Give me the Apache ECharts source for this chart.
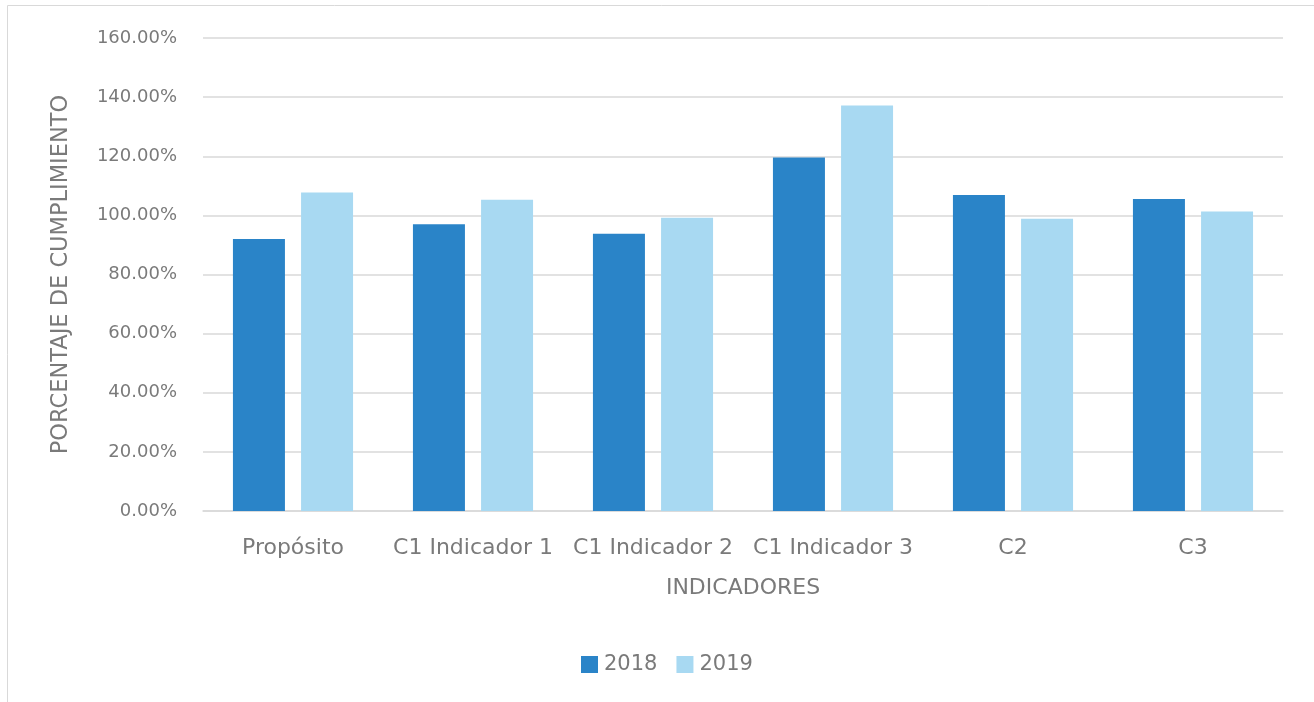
<!DOCTYPE html>
<html><head><meta charset="utf-8">
<script src="https://cdn.jsdelivr.net/npm/echarts@6/dist/echarts.min.js"></script>
<style>html,body{margin:0;padding:0;background:#fff;}#c{width:1314px;height:702px;}</style>
</head><body><div id="c"></div>
<script>
const categories = ['Propósito', 'C1 Indicador 1', 'C1 Indicador 2', 'C1 Indicador 3', 'C2', 'C3'];
const series2018 = [92.0, 97.0, 93.8, 119.6, 106.9, 105.5];
const series2019 = [107.7, 105.3, 99.2, 137.2, 98.9, 101.3];
const seriesNames = ['2018', '2019'];
const yAxisName = 'PORCENTAJE DE CUMPLIMIENTO';
const xAxisName = 'INDICADORES';

const FONT = '"DejaVu Sans", "Open Sans", sans-serif';
const TXT = '#7a7a7a';
const chart = echarts.init(document.getElementById('c'));
chart.setOption({
  animation: false,
  textStyle: { fontFamily: FONT },
  graphic: [{ type: 'rect', shape: { x: 7.5, y: 5.5, width: 1400, height: 800 }, style: { fill: 'none', stroke: '#d9d9d9', lineWidth: 1 } }],
  grid: { left: 203, right: 31, top: 38, bottom: 191, containLabel: false },
  legend: {
    data: seriesNames, top: 649, left: 576, itemWidth: 17, itemHeight: 17, itemGap: 19,
    icon: 'rect', textStyle: { color: TXT, fontSize: 21, fontFamily: FONT, padding: [0, 0, 0, 1] }
  },
  xAxis: {
    type: 'category', data: categories,
    name: xAxisName, nameLocation: 'middle', nameGap: 66,
    nameTextStyle: { color: TXT, fontSize: 22, fontFamily: FONT },
    axisLine: { lineStyle: { color: '#d9d9d9', width: 1.5 } },
    axisTick: { show: false },
    axisLabel: { color: TXT, fontSize: 22, margin: 26, interval: 0, fontFamily: FONT }
  },
  yAxis: {
    type: 'value', min: 0, max: 160, interval: 20,
    name: yAxisName, nameLocation: 'middle', nameGap: 130, nameRotate: 90,
    nameTextStyle: { color: TXT, fontSize: 22.5, fontFamily: FONT },
    axisLine: { show: false }, axisTick: { show: false },
    splitLine: { lineStyle: { color: '#d9d9d9', width: 1.5 } },
    axisLabel: { color: TXT, fontSize: 18, margin: 26, fontFamily: FONT, formatter: v => v.toFixed(2) + '%' }
  },
  series: [
    { name: seriesNames[0], type: 'bar', data: series2018, barWidth: 52, barGap: '31%', itemStyle: { color: '#2a84c8' } },
    { name: seriesNames[1], type: 'bar', data: series2019, barWidth: 52, itemStyle: { color: '#a8d9f2' } }
  ]
});
</script></body></html>
